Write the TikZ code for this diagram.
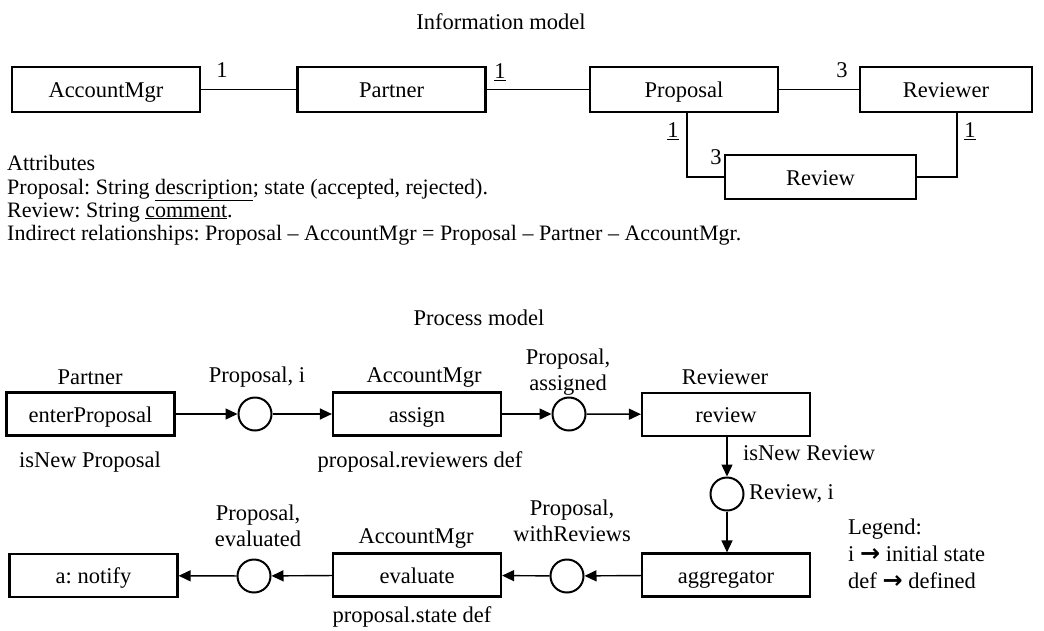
\documentclass[tikz,border=0pt]{standalone}
\usepackage{fontspec}
\setmainfont{Liberation Serif}
\newfontfamily\dejavu{DejaVu Sans}
\usetikzlibrary{arrows.meta}
\tikzset{
  box/.style={draw, line width=2.2pt, minimum width=188pt, minimum height=45pt, inner sep=0pt, text height=19pt, text depth=3pt},
  pbox/.style={draw, line width=2.2pt, minimum width=168pt, minimum height=43pt, inner sep=0pt, text height=19pt, text depth=3pt},
  place/.style={circle, draw, line width=2pt, minimum size=33pt, inner sep=0pt},
  conn/.style={line width=1.4pt},
  arr/.style={conn, -{Triangle[length=12pt,width=11pt]}},
  lbl/.style={inner sep=0pt, align=center},
  txt/.style={inner sep=0pt, anchor=base west}
}
\newcommand{\legarrow}{{\dejavu\bfseries\fontsize{24}{24}\selectfont →}}
\begin{document}
\frenchspacing
\begin{tikzpicture}[x=1pt, y=-1pt, font=\fontsize{22.5}{26}\selectfont]
\useasboundingbox (0,0) rectangle (1044,630);

% ---------- Information model ----------
\node[lbl] (t1) at (501,22) {Information model};

\node[box] (am) at (106,89.5) {AccountMgr};
\node[box] (pa) at (391.5,89.5) {Partner};
\node[box] (pr) at (684,89.5) {Proposal};
\node[box, minimum width=172pt] (rv) at (946,89.5) {Reviewer};
\node[box, minimum width=191pt, minimum height=44pt] (rw) at (820.5,177) {Review};

\coordinate (prb) at (687,112);
\coordinate (rvb) at (957,112);

\draw[conn] (am) -- (pa);
\draw[conn] (pa) -- (pr);
\draw[conn] (pr) -- (rv);
\draw[conn] (prb) |- (rw.west);
\draw[conn] (rvb) |- (rw.east);

\node[lbl] (m1) at (222,70) {1};
\node[lbl] (m2) at (500,72) {\underline{1}};
\node[lbl] (m3) at (842,70) {3};
\node[lbl] (m4) at (673,131) {\underline{1}};
\node[lbl] (m5) at (716,157) {3};
\node[lbl] (m6) at (970,131) {\underline{1}};

\begin{scope}[font=\fontsize{22}{26}\selectfont]
\node[txt] (a1) at (7,170) {Attributes};
\node[txt] (a2) at (7,194) {Proposal: String \underline{description}; state (accepted, rejected).};
\node[txt] (a3) at (7,217) {Review: String \underline{comment}.};
\node[txt] (a4) at (7,240) {Indirect relationships: Proposal -- AccountMgr = Proposal -- Partner -- AccountMgr.};
\end{scope}

% ---------- Process model ----------
\node[lbl] (t2) at (479,318) {Process model};

\node[pbox] (ep) at (90.5,414) {enterProposal};
\node[place] (c1) at (255,414) {};
\node[pbox] (as) at (417,414) {assign};
\node[place] (c2) at (569,414) {};
\node[pbox] (re) at (726,414.5) {review};
\node[place] (c3) at (727,494) {};
\node[pbox] (ag) at (726,575) {aggregator};
\node[place] (c4) at (567,576) {};
\node[pbox] (ev) at (417,575) {evaluate};
\node[place] (c5) at (254,576) {};
\node[pbox] (nt) at (93.5,575.5) {a: notify};

\draw[arr] (ep) -- (c1);
\draw[arr] (c1) -- (as);
\draw[arr] (as) -- (c2);
\draw[arr] (c2) -- (re);
\draw[arr] (re.south -| c3) -- (c3);
\draw[arr] (c3) -- (ag.north -| c3);
\draw[arr] (ag) -- (c4);
\draw[arr] (c4) -- (ev);
\draw[arr] (ev) -- (c5);
\draw[arr] (c5) -- (nt);

\node[lbl] (l1) at (90,377) {Partner};
\node[lbl] (l2) at (257,377) {Proposal, i};
\node[lbl] (l3) at (424,377) {AccountMgr};
\node[lbl] (l4) at (568,372) {Proposal,\\assigned};
\node[lbl] (l5) at (725,377) {Reviewer};
\node[lbl] (l6) at (90,462) {isNew Proposal};
\node[lbl] (l7) at (420,462) {proposal.reviewers def};
\node[lbl, anchor=west] (l8) at (743,453) {isNew Review};
\node[lbl, anchor=west] (l9) at (749,494) {Review, i};
\node[lbl] (l10) at (572,521) {Proposal,\\withReviews};
\node[lbl] (l11) at (258,526) {Proposal,\\evaluated};
\node[lbl] (l12) at (416,538) {AccountMgr};
\node[lbl] (l13) at (412,617) {proposal.state def};

\node[lbl, align=left, anchor=west, font=\fontsize{22.5}{27}\selectfont] (leg) at (848,554)
  {Legend:\\i \legarrow{} initial state\\def \legarrow{} defined};
\end{tikzpicture}
\end{document}
